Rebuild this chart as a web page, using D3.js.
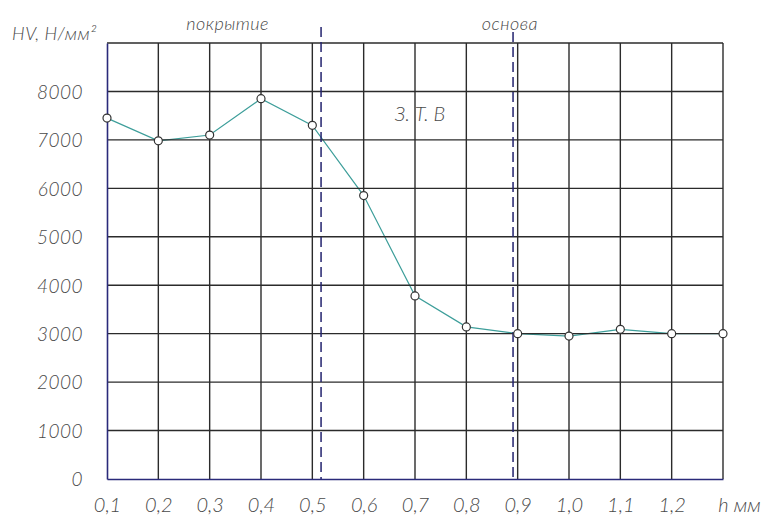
<!DOCTYPE html>
<html>
<head>
<meta charset="utf-8">
<script src="https://cdn.jsdelivr.net/npm/d3@7"></script>
<style>
  body { margin: 0; background: #fff; }
  svg text { font-family: 'Lato', 'DejaVu Sans Condensed', sans-serif; font-style: italic; font-weight: 300; fill: #4a4a4a; }
</style>
</head>
<body>
<div id="chart"></div>
<script>
// глубина h, мм
const depth = [0.1, 0.2, 0.3, 0.4, 0.5, 0.6, 0.7, 0.8, 0.9, 1.0, 1.1, 1.2, 1.3]
// микротвёрдость HV, Н/мм²
const hardness = [7450, 6980, 7100, 7850, 7300, 5850, 3780, 3140, 3000, 2950, 3090, 3000, 3000]

const xTicks = [0.1, 0.2, 0.3, 0.4, 0.5, 0.6, 0.7, 0.8, 0.9, 1.0, 1.1, 1.2, 1.3]
const xTickLabels = ['0,1', '0,2', '0,3', '0,4', '0,5', '0,6', '0,7', '0,8', '0,9', '1,0', '1,1', '1,2', 'h мм']
const yTicks = [0, 1000, 2000, 3000, 4000, 5000, 6000, 7000, 8000, 9000]
const yTickLabels = ['0', '1000', '2000', '3000', '4000', '5000', '6000', '7000', '8000', '']

// границы зон: покрытие | З.Т.В | основа
const boundaries = [0.517, 0.891]
const zoneLabels = [
  { text: 'покрытие', at: 0.335 },
  { text: 'основа', at: 0.885 },
]

const width = 766
const height = 518
const plotLeft = 107
const plotRight = 723
const plotTop = 43
const plotBottom = 479

const svg = d3.select('#chart').append('svg').attr('width', width).attr('height', height)

const x = d3.scaleLinear().domain([0.1, 1.3]).range([plotLeft, plotRight])
const y = d3.scaleLinear().domain([0, 9000]).range([plotBottom, plotTop])

// кривая (под сеткой)
const line = d3.line().x((d, i) => x(depth[i])).y((d) => y(d))
svg.append('path')
  .datum(hardness)
  .attr('d', line)
  .attr('fill', 'none')
  .attr('stroke', '#3d9e9a')
  .attr('stroke-width', 1.2)

// сетка
svg.append('g')
  .selectAll('line')
  .data(xTicks.slice(1))
  .enter()
  .append('line')
  .attr('x1', (d) => x(d)).attr('x2', (d) => x(d))
  .attr('y1', plotTop).attr('y2', plotBottom)
  .attr('stroke', '#2b2b2b')
  .attr('stroke-width', 1.4)

svg.append('g')
  .selectAll('line')
  .data(yTicks.slice(1))
  .enter()
  .append('line')
  .attr('x1', plotLeft).attr('x2', plotRight)
  .attr('y1', (d) => y(d)).attr('y2', (d) => y(d))
  .attr('stroke', '#2b2b2b')
  .attr('stroke-width', 1.4)

// оси
const yAxis = svg.append('g')
  .attr('transform', `translate(${plotLeft},0)`)
  .call(d3.axisLeft(y).tickValues(yTicks).tickSize(0).tickPadding(24).tickFormat((d, i) => yTickLabels[i]))
yAxis.select('.domain').attr('stroke', '#2a2a7a').attr('stroke-width', 1.6)
yAxis.selectAll('text').style('font-size', '19px').style('letter-spacing', '0.5px').attr('dy', '0.36em')

const xAxis = svg.append('g')
  .attr('transform', `translate(0,${plotBottom})`)
  .call(d3.axisBottom(x).tickValues(xTicks).tickSize(0).tickPadding(19).tickFormat((d, i) => xTickLabels[i]))
xAxis.select('.domain').attr('stroke', '#2a2a7a').attr('stroke-width', 1.6)
xAxis.selectAll('text')
  .style('font-size', '20px')
  .attr('dx', (d, i) => (i === xTickLabels.length - 1 ? 16 : 0))

// пунктирные границы зон
svg.append('g')
  .selectAll('line')
  .data(boundaries)
  .enter()
  .append('line')
  .attr('x1', (d) => x(d)).attr('x2', (d) => x(d))
  .attr('y1', (d, i) => (i === 0 ? 27 : 32)).attr('y2', plotBottom)
  .attr('stroke', '#23236e')
  .attr('stroke-width', 1.5)
  .attr('stroke-dasharray', '10,5')

// точки
svg.append('g')
  .selectAll('circle')
  .data(hardness)
  .enter()
  .append('circle')
  .attr('cx', (d, i) => x(depth[i]))
  .attr('cy', (d) => y(d))
  .attr('r', 4)
  .attr('fill', '#fff')
  .attr('stroke', '#333')
  .attr('stroke-width', 1.2)

// подписи
svg.append('text')
  .attr('x', 12).attr('y', 40)
  .style('font-size', '18px')
  .style('letter-spacing', '0.5px')
  .text('HV, Н/мм²')

svg.selectAll('.zone')
  .data(zoneLabels)
  .enter()
  .append('text')
  .attr('class', 'zone')
  .attr('x', (d) => x(d.at))
  .attr('y', 30)
  .attr('text-anchor', 'middle')
  .style('font-size', '18px')
  .style('letter-spacing', '0.5px')
  .text((d) => d.text)

svg.append('text')
  .attr('x', 420).attr('y', 121)
  .attr('text-anchor', 'middle')
  .style('font-size', '20px')
  .text('З. Т. В')
</script>
</body>
</html>
